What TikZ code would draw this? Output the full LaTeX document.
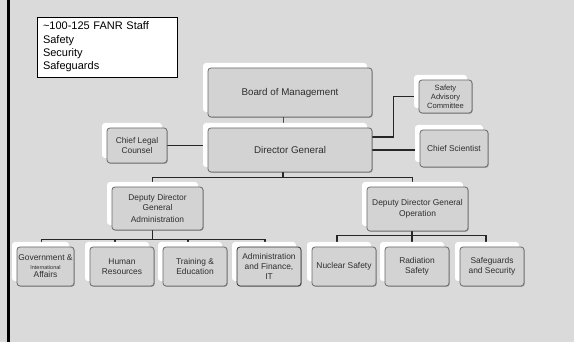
\documentclass[tikz,border=0pt]{standalone}
\usepackage{fontspec}
\setmainfont{Liberation Sans}
\usetikzlibrary{shadows,calc}
\definecolor{bgc}{HTML}{DADADA}
\definecolor{boxc}{HTML}{D3D3D3}
\definecolor{edgec}{HTML}{6A6A6A}
\definecolor{txtc}{HTML}{2E2E2E}
\pgfdeclarelayer{back}
\pgfdeclarelayer{lines}
\pgfsetlayers{back,lines,main}
\begin{document}
\begin{tikzpicture}[x=1pt,y=-1pt,
  orgbox/.style={draw=edgec, line width=0.8pt, fill=boxc, rounded corners=3pt,
    align=center, inner sep=1pt, text=txtc,
    font=\fontsize{8.4}{9.6}\selectfont,
    general shadow={fill=white, draw=none, shadow xshift=-5pt, shadow yshift=5pt},
    general shadow={fill=black, opacity=0.25, draw=none, shadow xshift=0.8pt, shadow yshift=-0.8pt}},
  bigbox/.style={orgbox, font=\fontsize{9.8}{11}\selectfont},
  leafbox/.style={orgbox, minimum width=64pt, minimum height=39pt},
  conn/.style={draw=black!85, line width=1.2pt},
  notebox/.style={draw=black, line width=0.8pt, fill=white, align=left,
    text width=128pt, inner xsep=6pt, minimum height=60pt,
    font=\fontsize{11}{13.3}\selectfont}]
\useasboundingbox (0,0) rectangle (574,342);
\begin{pgfonlayer}{back}
  \fill[bgc] (0,0) rectangle (574,342);
  \fill[black] (7,0) rectangle (10,342);
\end{pgfonlayer}

% note
\node[notebox] (note) at (107,47) {\textasciitilde100-125 FANR Staff\\Safety\\Security\\Safeguards};

% top level
\node[bigbox, minimum width=164pt, minimum height=49pt] (board) at (290,92.5) {Board of Management};
\node[bigbox, minimum width=164pt, minimum height=44pt] (dg) at (290,150) {Director General};
\node[orgbox, minimum width=60pt, minimum height=35pt] (legal) at (137,145.5) {Chief Legal\\Counsel};
\node[orgbox, minimum width=53pt, minimum height=33pt, font=\fontsize{7.6}{8.8}\selectfont] (sac) at (445.5,96.5) {Safety\\Advisory\\Committee};
\node[orgbox, minimum width=68pt, minimum height=37pt] (sci) at (454,148.5) {Chief Scientist};

% deputies
\node[orgbox, minimum width=91pt, minimum height=43pt] (ddga) at (157.5,208.5) {Deputy Director\\General\\[2pt]Administration};
\node[orgbox, minimum width=101pt, minimum height=44pt] (ddgo) at (417.5,209) {Deputy Director General\\[1pt]Operation};

% leaves
\node[leafbox, minimum width=57pt] (gov) at (45.5,266.5) {Government \&\\[-1pt]{\fontsize{5.5}{6.5}\selectfont International}\\[-1pt]Affairs};
\node[leafbox] (hr) at (122,266.5) {Human\\Resources};
\node[leafbox] (te) at (195,266.5) {Training \&\\Education};
\node[leafbox, draw=black!80] (adm) at (269,266.5) {Administration\\and Finance,\\IT};
\node[leafbox] (nuc) at (344,266.5) {Nuclear Safety};
\node[leafbox] (rad) at (417,266.5) {Radiation\\Safety};
\node[leafbox] (saf) at (492,266.5) {Safeguards\\and Security};

\begin{pgfonlayer}{lines}
  \draw[conn, line width=1pt, draw=black!70] ([xshift=-7pt]board.south) -- ([xshift=-7pt]dg.north);
  \draw[conn] (legal.east) -- (legal.east -| dg.west);
  \draw[conn] ([yshift=13pt]dg.east) -- ++(21,0) |- (sac.west);
  \draw[conn] (dg.east) -- (dg.east -| sci.west);
  % bus to deputies
  \coordinate (j1) at ($(dg.south)+(-7,5.5)$);
  \draw[conn] ([xshift=-7pt]dg.south) -- (j1);
  \draw[conn] ([xshift=-5pt]ddga.north) |- (j1) -| ([xshift=-5pt]ddgo.north);
  % admin bus
  \coordinate (j2) at ($(ddga.south)+(-5,9.5)$);
  \draw[conn] ([xshift=-5pt]ddga.south) -- (j2);
  \draw[conn] ([xshift=-4pt]gov.north) |- (j2) -| ([xshift=-4pt]adm.north);
  \draw[conn] ([xshift=-7pt]hr.north) -- ([xshift=-7pt]hr.north |- j2);
  \draw[conn] ([xshift=-7pt]te.north) -- ([xshift=-7pt]te.north |- j2);
  % operation bus
  \coordinate (j3) at ($(ddgo.south)+(-5.5,4)$);
  \draw[conn] ([xshift=-5.5pt]ddgo.south) -- (j3);
  \draw[conn] ([xshift=-7pt]nuc.north) |- (j3) -| ([xshift=-6pt]saf.north);
  \draw[conn] ([xshift=-5pt]rad.north) -- ([xshift=-5pt]rad.north |- j3);
\end{pgfonlayer}
\end{tikzpicture}
\end{document}
